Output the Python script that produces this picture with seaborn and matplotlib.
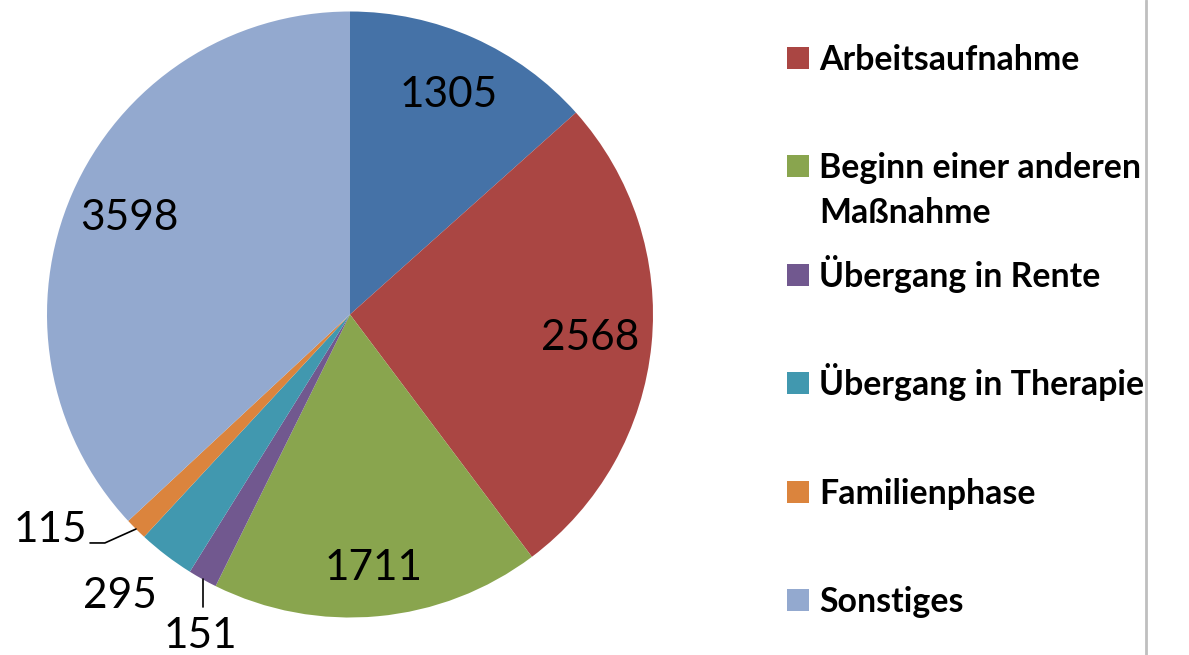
import matplotlib
matplotlib.use('Agg')
import matplotlib.pyplot as plt
import seaborn as sns
import numpy as np
from matplotlib.patches import Rectangle
from matplotlib.lines import Line2D

# first legend entry is cut off above the picture, its label is unknown
categories = ["", "Arbeitsaufnahme", "Beginn einer anderen\nMaßnahme",
              "Übergang in Rente", "Übergang in Therapie", "Familienphase", "Sonstiges"]
values = [1305, 2568, 1711, 151, 295, 115, 3598]
colors = ["#4572A7", "#AA4643", "#89A54E", "#71588F", "#4198AF", "#DB843D", "#93A9CF"]

sns.set_theme(style="white")
plt.rcParams['font.family'] = ['Lato', 'DejaVu Sans']
plt.rcParams['text.color'] = 'black'

W, H = 1189, 655
fig = plt.figure(figsize=(W / 100, H / 100), dpi=100)

cx, cy, r = 350, 314.5, 303
ax = fig.add_axes([(cx - r) / W, (H - cy - r) / H, 2 * r / W, 2 * r / H])

wedges, _ = ax.pie(values, colors=colors, startangle=90, counterclock=False,
                   radius=1, wedgeprops=dict(linewidth=0))
ax.set_xlim(-1, 1)
ax.set_ylim(-1, 1)
ax.set_aspect('equal')
ax.axis('off')

total = sum(values)
label_fs = 30.5
for i, (w, v) in enumerate(zip(wedges, values)):
    mid = np.deg2rad((w.theta1 + w.theta2) / 2)
    ex, ey = np.cos(mid), np.sin(mid)
    if v / total > 0.05:
        d = 0.84 if i == 2 else 0.795
        ax.text(d * ex, d * ey, str(v), ha='center', va='center', fontsize=label_fs)

# small slices: labels outside
ax.text(-0.867, -0.711, "115", ha='right', va='center', fontsize=label_fs, clip_on=False)
mid = np.deg2rad((wedges[5].theta1 + wedges[5].theta2) / 2)
ax.plot([-0.858, -0.809, np.cos(mid)], [-0.754, -0.754, np.sin(mid)],
        color='black', lw=1.2, clip_on=False)

ax.text(-0.759, -0.929, "295", ha='center', va='center', fontsize=label_fs, clip_on=False)

ax.text(-0.495, -1.06, "151", ha='center', va='center', fontsize=label_fs, clip_on=False)
mid = np.deg2rad((wedges[3].theta1 + wedges[3].theta2) / 2)
ax.plot([np.cos(mid), np.cos(mid)], [np.sin(mid), -0.965], color='black', lw=1.2, clip_on=False)

# legend drawn by hand, first entry sits above the canvas
leg_y0, leg_step = 58 - 108.4, 108.4
for i, (lab, col) in enumerate(zip(categories, colors)):
    y = leg_y0 + i * leg_step
    fig.add_artist(Rectangle((787 / W, 1 - (y + 11) / H), 22 / W, 22 / H,
                             transform=fig.transFigure, facecolor=col, edgecolor='none'))
    for k, line in enumerate(lab.split('\n')):
        if line:
            fig.text(819 / W, 1 - (y + 12 + 45 * k) / H, line, ha='left', va='baseline',
                     fontsize=24.4, fontweight='bold')

fig.add_artist(Line2D([1146 / W, 1146 / W], [0, 1], transform=fig.transFigure,
                      color='#BFBFBF', lw=2))

fig.savefig('out.png', dpi=100)
